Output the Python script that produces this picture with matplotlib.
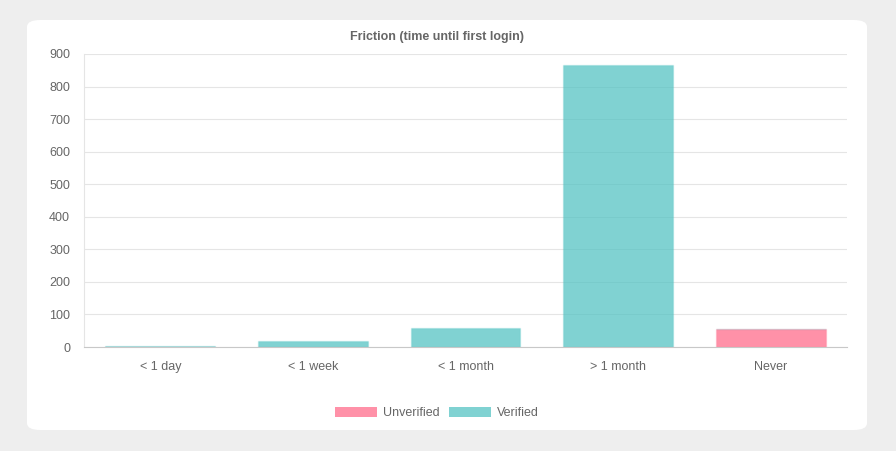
import matplotlib
matplotlib.use("Agg")
import matplotlib.pyplot as plt
from matplotlib.patches import FancyBboxPatch, Patch

plt.rcParams['font.family'] = ['Liberation Sans', 'DejaVu Sans']

categories = ["< 1 day", "< 1 week", "< 1 month", "> 1 month", "Never"]
unverified = [0, 0, 0, 0, 54]
verified = [3, 18, 59, 866, 0]
yticks = [0, 100, 200, 300, 400, 500, 600, 700, 800, 900]

W, H = 896, 451
fig = plt.figure(figsize=(W/100, H/100), dpi=100)
fig.patch.set_facecolor("#eeeeee")
card = FancyBboxPatch((27/W, (H-430)/H), 840/W, 410/H,
                      boxstyle="round,pad=0,rounding_size=0.015",
                      transform=fig.transFigure, facecolor="white", edgecolor="none",
                      zorder=-10)
fig.patches.append(card)

ax = fig.add_axes([84/W, (H-347)/H, 763/W, 293/H])
ax.set_zorder(5)
ax.set_facecolor("none")
x = range(len(categories))
red = (1.0, 0.388, 0.518, 0.7)
teal = (0.294, 0.753, 0.753, 0.7)
ax.bar(x, unverified, width=0.72, color=red, edgecolor=(1, 0.388, 0.518, 0.2), linewidth=1)
ax.bar(x, verified, bottom=unverified, width=0.72, color=teal, edgecolor=(0.294, 0.753, 0.753, 0.2), linewidth=1)
ax.set_xlim(-0.5, len(categories) - 0.5)
ax.set_ylim(0, 900)
ax.set_yticks(yticks)
ax.set_xticks(list(x))
ax.set_xticklabels(categories)
ax.tick_params(colors="#666666", labelsize=9, length=0, pad=10)
ax.grid(axis="y", color="#e5e5e5", linewidth=0.8)
ax.set_axisbelow(True)
for s in ["top", "right"]:
    ax.spines[s].set_visible(False)
ax.spines["left"].set_color("#e5e5e5")
ax.spines["bottom"].set_color("#c8c8c8")

fig.text(437/W, 1 - 37/H, "Friction (time until first login)", ha="center", va="center",
         fontsize=9, fontweight="bold", color="#666666")
handles = [Patch(facecolor=red, label="Unverified"), Patch(facecolor=teal, label="Verified")]
fig.legend(handles=handles, loc="center", bbox_to_anchor=(437/W, 1 - 413/H), ncol=2,
           frameon=False, fontsize=9, labelcolor="#666666", handlelength=3.3,
           handleheight=0.9, columnspacing=0.8, handletextpad=0.5)
fig.savefig("out.png", dpi=100, facecolor=fig.get_facecolor())
